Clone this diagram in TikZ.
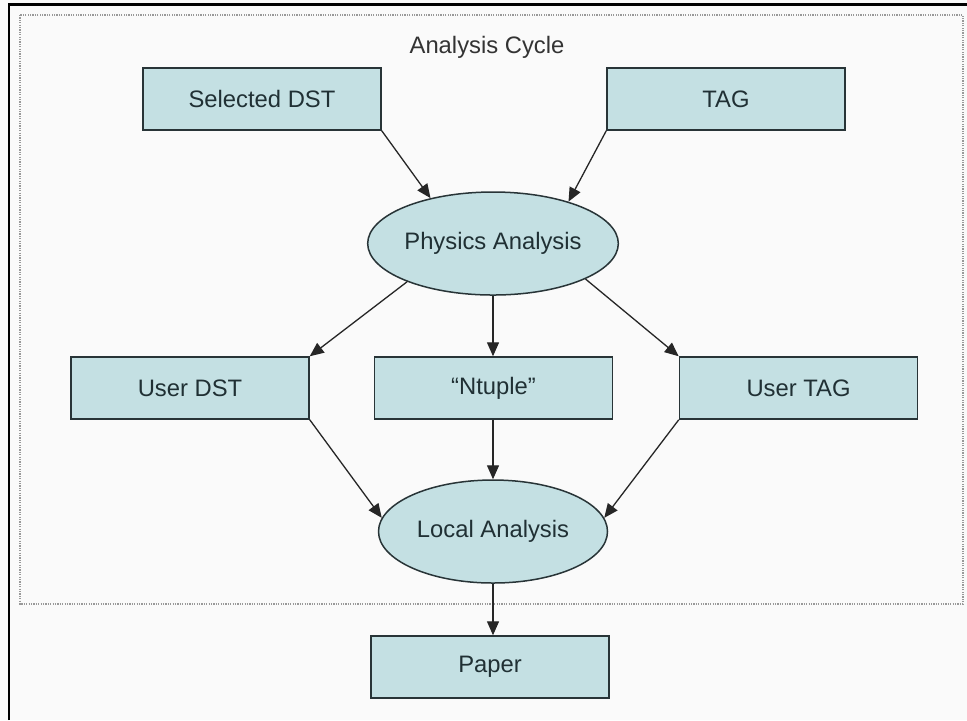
\documentclass[tikz,border=0pt]{standalone}
\usepackage{fontspec}
\setmainfont{Liberation Sans}
\usetikzlibrary{arrows.meta,shapes.geometric}

\definecolor{cyclefill}{RGB}{196,224,227}
\definecolor{cycletext}{RGB}{32,48,52}
\definecolor{cycleedge}{RGB}{40,52,55}

\begin{document}
\begin{tikzpicture}[x=0.5pt,y=-0.5pt,
		every node/.style={font=\fontsize{11.9}{14}\selectfont, text=cycletext},
		datafile/.style={draw=cycleedge, line width=0.75pt, fill=cyclefill,
			minimum width=119pt, minimum height=31pt, inner sep=0pt},
		job/.style={ellipse, draw=cycleedge, line width=0.75pt, fill=cyclefill,
			minimum width=114.5pt, minimum height=51.5pt, inner sep=0pt},
		flow/.style={draw=black!85, line width=0.65pt, -{Triangle[length=7pt,width=6pt]}}]
		\useasboundingbox (0,0) rectangle (967,720);
		\fill[black!2] (0,0) rectangle (967,720);
		% frame edges
		\draw[line width=1.3pt] (9,720) -- (9,4.5) -- (967,4.5);
		% analysis cycle box
		\draw[black!40, line width=0.6pt, dash pattern=on 0.6pt off 0.6pt] (20,15) rectangle (963,604);
		\node[text=black!80] (title) at (487,47) {Analysis Cycle};

		\node[datafile] (sdst) at (262,99) {Selected DST};
		\node[datafile] (tag) at (726,99) {TAG};
		\node[job] (phys) at (493,243.5) {Physics Analysis};
		\node[datafile] (udst) at (190,388) {User DST};
		\node[datafile] (ntuple) at (493.5,388) {``Ntuple''};
		\node[datafile] (utag) at (798.5,388) {User TAG};
		\node[job] (local) at (493,531.5) {Local Analysis};
		\node[datafile] (paper) at (490,667) {Paper};

		\draw[flow] (sdst.south east) -- (phys.144);
		\draw[flow] (tag.south west) -- (phys.29.5);
		\draw[flow] (phys.204) -- (udst.north east);
		\draw[flow] (phys.south) -- (phys.south |- ntuple.north);
		\draw[flow] (phys.339) -- (utag.north west);
		\draw[flow] (udst.south east) -- (local.173);
		\draw[flow] (local.north |- ntuple.south) -- (local.north);
		\draw[flow] (utag.south west) -- (local.7);
		\draw[flow] (local.south) -- (local.south |- paper.north);
	\end{tikzpicture}
\end{document}
